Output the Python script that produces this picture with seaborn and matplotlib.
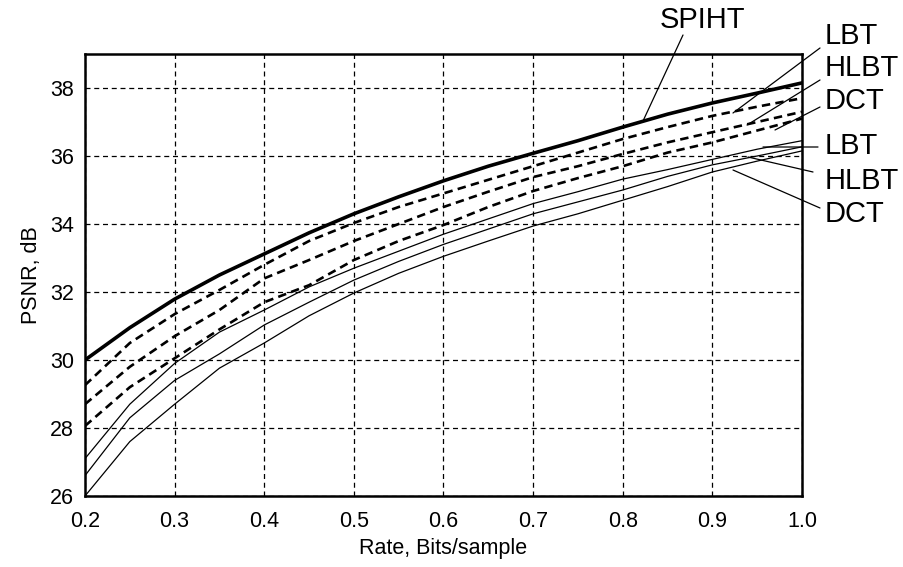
import numpy as np
import pandas as pd
import matplotlib
matplotlib.use("Agg")
import matplotlib.pyplot as plt
from matplotlib.ticker import MultipleLocator, FormatStrFormatter
import seaborn as sns

# ---------------- data ----------------
rate = [0.2, 0.25, 0.3, 0.35, 0.4, 0.45, 0.5, 0.55, 0.6, 0.65, 0.7,
        0.75, 0.8, 0.85, 0.9, 0.95, 1.0]
spiht = [30.0, 30.95, 31.79, 32.5, 33.12, 33.74, 34.3, 34.8, 35.27, 35.7,
         36.08, 36.45, 36.85, 37.23, 37.56, 37.85, 38.15]
lbt_d = [29.26, 30.5, 31.35, 32.06, 32.8, 33.5, 34.03, 34.5, 34.9, 35.3,
         35.7, 36.1, 36.5, 36.85, 37.18, 37.45, 37.7]
hlbt_d = [28.7, 29.8, 30.7, 31.47, 32.4, 32.94, 33.5, 34.0, 34.5, 34.95,
          35.38, 35.7, 36.06, 36.4, 36.7, 37.0, 37.3]
dct_d = [28.06, 29.2, 30.05, 30.9, 31.7, 32.2, 32.94, 33.5, 33.97, 34.5,
         34.97, 35.35, 35.7, 36.1, 36.4, 36.75, 37.1]
lbt_s = [27.1, 28.7, 29.9, 30.82, 31.47, 32.15, 32.7, 33.2, 33.7, 34.15,
         34.6, 34.95, 35.32, 35.6, 35.9, 36.2, 36.45]
hlbt_s = [26.6, 28.3, 29.4, 30.18, 31.03, 31.7, 32.35, 32.9, 33.4, 33.85,
          34.3, 34.65, 35.0, 35.4, 35.74, 36.0, 36.27]
dct_s = [26.0, 27.6, 28.7, 29.76, 30.5, 31.3, 31.97, 32.55, 33.05, 33.5,
         33.94, 34.3, 34.7, 35.1, 35.53, 35.85, 36.15]

x_ticks = [0.2, 0.3, 0.4, 0.5, 0.6, 0.7, 0.8, 0.9, 1.0]
y_ticks = [26, 28, 30, 32, 34, 36, 38]
x_label = "Rate, Bits/sample"
y_label = "PSNR, dB"

# ---------------- style ----------------
sns.set_theme(style="white")
plt.rcParams['font.family'] = ['Liberation Sans', 'DejaVu Sans']

W, H = 904, 567
fig = plt.figure(figsize=(W / 100, H / 100), dpi=100)
L, R, T, B = 85, 802, 54, 496
ax = fig.add_axes([L / W, 1 - B / H, (R - L) / W, (B - T) / H])

XMIN, XMAX, YMIN, YMAX = 0.2, 1.0, 26.0, 39.0


def px2data(px, py):
    return (XMIN + (px - L) / (R - L) * (XMAX - XMIN),
            YMIN + (B - py) / (B - T) * (YMAX - YMIN))


series = [
    (spiht, '-', 2.6),
    (lbt_d, (0, (3.2, 2.0)), 1.9),
    (hlbt_d, (0, (3.2, 2.0)), 1.9),
    (dct_d, (0, (3.2, 2.0)), 1.9),
    (lbt_s, '-', 0.9),
    (hlbt_s, '-', 0.9),
    (dct_s, '-', 0.9),
]
for vals, ls, lw in series:
    sns.lineplot(x=rate, y=vals, ax=ax, color='black', linestyle=ls,
                 linewidth=lw, zorder=3)

ax.set_xlim(XMIN, XMAX)
ax.set_ylim(YMIN, YMAX)
ax.set_xticks(x_ticks)
ax.set_yticks(y_ticks)
ax.xaxis.set_major_formatter(FormatStrFormatter('%.1f'))
ax.xaxis.set_minor_locator(MultipleLocator(0.05))
ax.yaxis.set_minor_locator(MultipleLocator(1))
ax.grid(True, which='major', color='black', linestyle=(0, (4, 3)),
        linewidth=0.9)
ax.tick_params(which='both', direction='in', color='black',
               labelsize=15.5, labelcolor='black')
ax.tick_params(axis='x', which='major', length=5, pad=11)
ax.tick_params(axis='y', which='major', length=5, pad=8)
ax.tick_params(which='minor', length=3.5)
for s in ax.spines.values():
    s.set_color('black')
    s.set_linewidth(1.8)
ax.set_xlabel(x_label, fontsize=15.5, color='black', labelpad=4)
ax.set_ylabel(y_label, fontsize=15.5, color='black', labelpad=6)

# ---------------- annotations ----------------
labels = [
    ("SPIHT", (660, 20), (683, 35), (643, 121)),
    ("LBT", (825, 36), (820, 48), (733, 113)),
    ("HLBT", (825, 68), (820, 80), (747, 125)),
    ("DCT", (825, 101), (820, 107), (775, 130)),
    ("LBT", (825, 146), (818, 147), (763, 147)),
    ("HLBT", (825, 181), (813, 172), (748, 157)),
    ("DCT", (825, 214), (820, 208), (733, 170)),
]
for txt, (tx, ty), p0, p1 in labels:
    fig.text(tx / W, 1 - ty / H, txt, fontsize=21, color='black',
             ha='left', va='center')
    ax.annotate('', xy=px2data(*p1), xytext=px2data(*p0),
                xycoords='data', textcoords='data', annotation_clip=False,
                arrowprops=dict(arrowstyle='-', color='black', lw=0.9,
                                shrinkA=0, shrinkB=0))

fig.savefig("out.png", dpi=100)
